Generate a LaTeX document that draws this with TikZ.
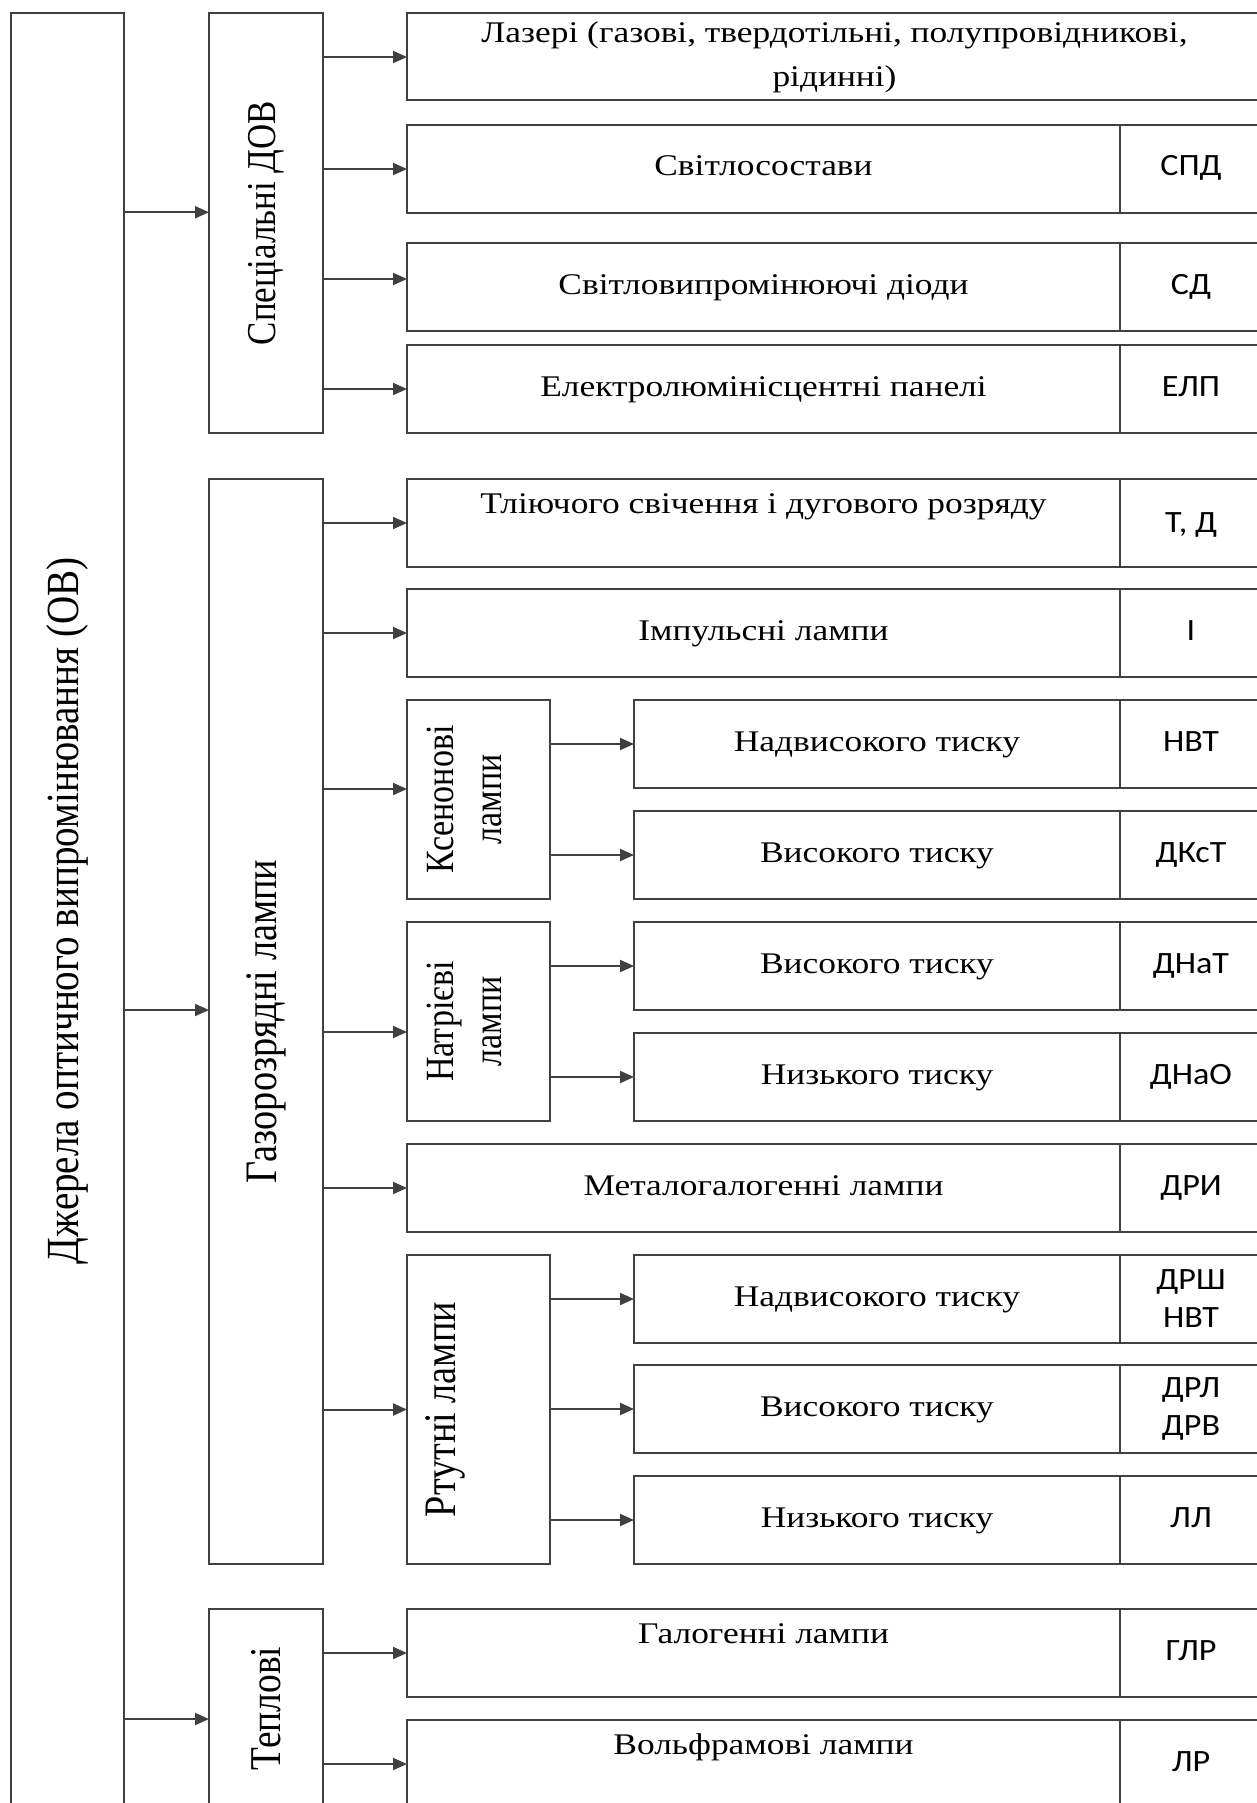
\documentclass[tikz,border=0pt]{standalone}
\usepackage{fontspec}
\usetikzlibrary{arrows.meta,positioning,calc}
\newfontfamily\serifx[FakeStretch=1.18]{Liberation Serif}
\newfontfamily\serifv[FakeStretch=0.85]{Liberation Serif}
\newfontfamily\codefont[FakeStretch=1.1]{Carlito}
\definecolor{edge}{HTML}{404040}
\tikzset{frame/.style={draw=edge,line width=2pt,inner sep=0pt,outer sep=0pt},item/.style={frame,anchor=north west,minimum width=713pt,minimum height=88pt,font=\serifx\fontsize{30}{40}\selectfont,text height=21pt,text depth=7pt},sub/.style={item,minimum width=486pt},cell/.style={frame,minimum width=142pt,minimum height=88pt,font=\codefont\fontsize{31}{38}\selectfont,text height=21pt,text depth=7pt},pair/.style={frame,minimum width=142pt,minimum height=88pt,font=\codefont\fontsize{31}{38}\selectfont,align=center},group/.style={frame,anchor=north west,minimum width=114pt},kind/.style={frame,anchor=north west,minimum width=143pt},vtext/.style={rotate=90,align=center,font=\serifv\fontsize{#1}{48}\selectfont},vtext/.default=45,raised/.style={text depth=41pt},flow/.style={-{Triangle[length=14pt,width=12pt]},line width=2pt,draw=edge}}

\begin{document}
\begin{tikzpicture}[x=1pt,y=-1pt]
\fill[white] (0,0) rectangle (1257,1803);
\useasboundingbox (0,0) rectangle (1257,1803);
\clip (0,0) rectangle (1257,1803);
\node[frame,anchor=north west,minimum width=113.5pt,minimum height=1794.5pt] (src) at (10.5,13.5) {};
\node[vtext=46] (srct) at (src.center) {Джерела оптичного випромінювання (ОВ)};
\node[group,minimum height=419.5pt] (spec) at (209,13.5) {};
\node[vtext=41] (spect) at (spec.center) {Спеціальні ДОВ};
\node[group,minimum height=1085pt] (gas) at (209,479) {};
\node[vtext] (gast) at (gas.center) {Газорозрядні лампи};
\node[group,minimum height=199pt] (therm) at (209,1609) {};
\node[vtext=44] (thermt) at (therm.center) {Теплові};
\node[frame,anchor=north west,minimum width=855pt,minimum height=87pt,align=center,font=\serifx\fontsize{30}{44}\selectfont] (laz) at (407,13.5) {Лазері (газові, твердотільні, полупровідникові,\\рідинні)};
\node[item] (svs) at (407,125) {Світлосостави};
\node[cell,right=0pt of svs] (svsc) {СПД};
\node[item] (led) at (407,243) {Світловипромінюючі діоди};
\node[cell,right=0pt of led] (ledc) {СД};
\node[item] (elp) at (407,345) {Електролюмінісцентні панелі};
\node[cell,right=0pt of elp] (elpc) {ЕЛП};
\node[item,raised] (glow) at (407,479) {Тліючого свічення і дугового розряду};
\node[cell,right=0pt of glow,text depth=3pt] (glowc) {Т, Д};
\node[item] (imp) at (407,589) {Імпульсні лампи};
\node[cell,right=0pt of imp] (impc) {І};
\node[kind,minimum height=199pt] (xen) at (407,700) {};
\node[vtext=40] (xent) at ([xshift=-14pt]xen.center) {Ксенонові\\лампи};
\node[sub] (xuhp) at (634,700) {Надвисокого тиску};
\node[cell,right=0pt of xuhp] (xuhpc) {НВТ};
\node[sub] (xhp) at (634,811) {Високого тиску};
\node[cell,right=0pt of xhp] (xhpc) {ДКсТ};
\node[kind,minimum height=199pt] (na) at (407,922) {};
\node[vtext=40] (nat) at ([xshift=-14pt]na.center) {Натрієві\\лампи};
\node[sub] (nahp) at (634,922) {Високого тиску};
\node[cell,right=0pt of nahp] (nahpc) {ДНаТ};
\node[sub] (nalp) at (634,1033) {Низького тиску};
\node[cell,right=0pt of nalp] (nalpc) {ДНаО};
\node[item] (mh) at (407,1144) {Металогалогенні лампи};
\node[cell,right=0pt of mh] (mhc) {ДРИ};
\node[kind,minimum height=309pt] (hg) at (407,1255) {};
\node[vtext] (hgt) at ([xshift=-33.5pt]hg.center) {Ртутні лампи};
\node[sub] (hguhp) at (634,1255) {Надвисокого тиску};
\node[pair,right=0pt of hguhp] (hguhpc) {ДРШ\\НВТ};
\node[sub] (hghp) at (634,1365) {Високого тиску};
\node[pair,right=0pt of hghp] (hghpc) {ДРЛ\\ДРВ};
\node[sub] (hglp) at (634,1476) {Низького тиску};
\node[cell,right=0pt of hglp] (hglpc) {ЛЛ};
\node[item,raised] (hal) at (407,1609) {Галогенні лампи};
\node[cell,right=0pt of hal] (halc) {ГЛР};
\node[item,raised] (wolf) at (407,1720) {Вольфрамові лампи};
\node[cell,right=0pt of wolf] (wolfc) {ЛР};
\draw[flow]($(src.east|-spec.west)+(0,-11)$)--($(spec.west)+(0,-11)$);
\draw[flow]($(src.east|-gas.west)+(0,-11.5)$)--($(gas.west)+(0,-11.5)$);
\draw[flow]($(src.east|-therm.west)+(0,10.5)$)--($(therm.west)+(0,10.5)$);
\draw[flow](spec.east|-laz.west)--(laz.west);\draw[flow](spec.east|-svs.west)--(svs.west);
\draw[flow]($(spec.east|-led.west)+(0,-8)$)--($(led.west)+(0,-8)$);\draw[flow](spec.east|-elp.west)--(elp.west);
\draw[flow](gas.east|-glow.west)--(glow.west);\draw[flow](gas.east|-imp.west)--(imp.west);
\draw[flow]($(gas.east|-xen.west)+(0,-10.5)$)--($(xen.west)+(0,-10.5)$);
\draw[flow]($(gas.east|-na.west)+(0,10.5)$)--($(na.west)+(0,10.5)$);
\draw[flow](gas.east|-mh.west)--(mh.west);\draw[flow](gas.east|-hg.west)--(hg.west);
\draw[flow](xen.east|-xuhp.west)--(xuhp.west);\draw[flow](xen.east|-xhp.west)--(xhp.west);
\draw[flow](na.east|-nahp.west)--(nahp.west);\draw[flow](na.east|-nalp.west)--(nalp.west);
\draw[flow](hg.east|-hguhp.west)--(hguhp.west);\draw[flow](hg.east|-hghp.west)--(hghp.west);\draw[flow](hg.east|-hglp.west)--(hglp.west);
\draw[flow](therm.east|-hal.west)--(hal.west);\draw[flow](therm.east|-wolf.west)--(wolf.west);
\end{tikzpicture}
\end{document}
